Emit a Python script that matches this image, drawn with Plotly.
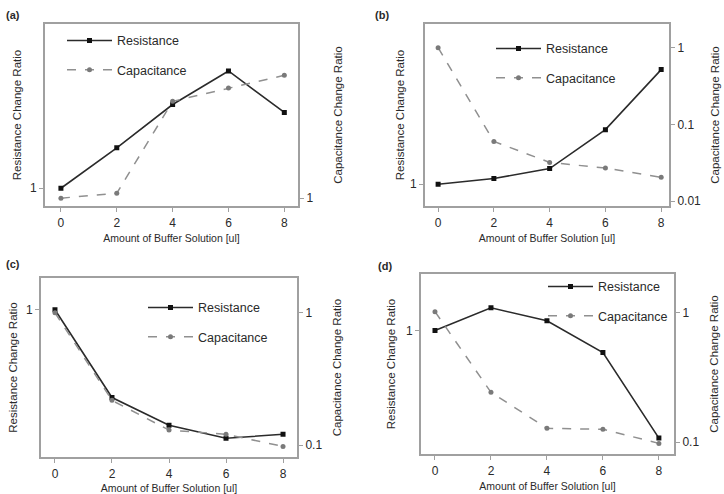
import plotly.graph_objects as go

x_vals = [0, 2, 4, 6, 8]
x_ticks = [0, 2, 4, 6, 8]

res_a = [1.0, 1.31, 1.75, 2.19, 1.66]
cap_a = [1.0, 1.02, 1.47, 1.55, 1.63]
res_b = [1.0, 1.06, 1.17, 1.73, 3.16]
cap_b = [1.0, 0.060, 0.032, 0.027, 0.0205]
res_c = [1.0, 0.324, 0.227, 0.192, 0.202]
cap_c = [1.0, 0.218, 0.13, 0.121, 0.098]
res_d = [1.0, 1.50, 1.19, 0.677, 0.148]
cap_d = [1.02, 0.243, 0.128, 0.126, 0.098]

panel_labels = ["(a)", "(b)", "(c)", "(d)"]
x_title = "Amount of Buffer Solution [ul]"
left_title = "Resistance Change Ratio"
right_title = "Capacitance Change Ratio"
res_name = "Resistance"
cap_name = "Capacitance"

W, H = 724, 494
def dx(a, b):
    return [a / W, b / W]
def dy(top, bot):
    return [1 - bot / H, 1 - top / H]

panels = [
    dict(res=res_a, cap=cap_a, xd=dx(45, 298), yd=dy(24, 207), xr=[-0.57, 8.49],
         lr=[-0.052, 0.477], rr=[-0.0138, 0.301],
         ltv=[1], ltt=["1"], rtv=[1], rtt=["1"], ls=6, rs=22,
         leg=dict(x=62 / W, y=1 - 26 / H), lab=(4, 15)),
    dict(res=res_b, cap=cap_b, xd=dx(425, 669), yd=dy(24, 207), xr=[-0.47, 8.28],
         lr=[-0.0956, 0.699], rr=[-2.065, 0.31],
         ltv=[1], ltt=["1"], rtv=[1, 0.1, 0.01], rtt=["1", "0.1", "0.01"], ls=3, rs=11,
         leg=dict(x=491 / W, y=1 - 34 / H), lab=(373, 15)),
    dict(res=res_c, cap=cap_c, xd=dx(41, 297), yd=dy(279, 459), xr=[-0.49, 8.49],
         lr=[-0.822, 0.178], rr=[-1.09, 0.263],
         ltv=[1], ltt=["1"], rtv=[1, 0.1], rtt=["1", "0.1"], ls=6, rs=12,
         leg=dict(x=143 / W, y=1 - 294 / H), lab=(4, 265)),
    dict(res=res_d, cap=cap_d, xd=dx(421, 674), yd=dy(275, 456), xr=[-0.5, 8.54],
         lr=[-0.954, 0.438], rr=[-1.092, 0.3],
         ltv=[1], ltt=["1"], rtv=[1, 0.1], rtt=["1", "0.1"], ls=8, rs=12,
         leg=dict(x=543 / W, y=1 - 273 / H), lab=(376, 267)),
]

fig = go.Figure()
FONT = "Liberation Sans, Arial, sans-serif"
frame_col = "#a0a0a0"
text_col = "#2a2a2a"

layout = dict(
    width=W, height=H, margin=dict(l=0, r=0, t=0, b=0),
    paper_bgcolor="white", plot_bgcolor="white",
    font=dict(family=FONT, color=text_col, size=12),
    annotations=[],
)

for i, p in enumerate(panels):
    n = i + 1
    xa = "x" if n == 1 else f"x{n}"
    yl = 2 * n - 1
    yr = 2 * n
    ya_l = "y" if yl == 1 else f"y{yl}"
    ya_r = f"y{yr}"
    leg = "legend" if n == 1 else f"legend{n}"

    fig.add_trace(go.Scatter(
        x=x_vals, y=p["res"], name=res_name, mode="lines+markers",
        line=dict(color="#2b2b2b", width=1.6),
        marker=dict(symbol="square", size=5, color="#111"),
        xaxis=xa, yaxis=ya_l, legend=leg, legendgroup=f"r{n}"))
    fig.add_trace(go.Scatter(
        x=x_vals, y=p["cap"], name=cap_name, mode="lines+markers",
        line=dict(color="#909090", width=1.5, dash="dash"),
        marker=dict(symbol="circle", size=5, color="#7a7a7a"),
        xaxis=xa, yaxis=ya_r, legend=leg, legendgroup=f"c{n}"))

    xkey = "xaxis" if n == 1 else f"xaxis{n}"
    ylkey = "yaxis" if yl == 1 else f"yaxis{yl}"
    yrkey = f"yaxis{yr}"
    layout[xkey] = dict(
        domain=p["xd"], anchor=ya_l, range=p["xr"],
        tickvals=x_ticks, ticks="outside", ticklen=4, tickcolor=frame_col,
        showline=True, linecolor=frame_col, linewidth=2, mirror=True,
        showgrid=False, zeroline=False,
        tickfont=dict(size=12, color=text_col),
        title=dict(text=x_title, font=dict(size=10.5, color=text_col), standoff=6),
    )
    layout[ylkey] = dict(
        domain=p["yd"], anchor=xa, type="log", range=p["lr"],
        tickvals=p["ltv"], ticktext=p["ltt"], ticks="outside", ticklen=4,
        tickcolor=frame_col, showline=True, linecolor=frame_col, linewidth=2,
        showgrid=False, zeroline=False,
        tickfont=dict(size=12, color=text_col),
        title=dict(text=left_title, font=dict(size=11.5, color=text_col), standoff=p["ls"]),
    )
    layout[yrkey] = dict(
        domain=p["yd"], anchor=xa, overlaying=ya_l,
        side="right", type="log", range=p["rr"],
        tickvals=p["rtv"], ticktext=p["rtt"], ticks="outside", ticklen=4,
        tickcolor=frame_col, showline=True, linecolor=frame_col, linewidth=2,
        showgrid=False, zeroline=False,
        tickfont=dict(size=12, color=text_col),
        title=dict(text=right_title, font=dict(size=11.5, color=text_col), standoff=p["rs"]),
    )
    layout[leg] = dict(
        x=p["leg"]["x"], y=p["leg"]["y"], xanchor="left", yanchor="top",
        bgcolor="rgba(0,0,0,0)", borderwidth=0, itemwidth=45,
        tracegroupgap=10, traceorder="grouped",
        font=dict(size=12.5, color=text_col, family=FONT),
    )
    layout["annotations"].append(dict(
        text=f"<b>{panel_labels[i]}</b>", x=p["lab"][0] / W, y=1 - p["lab"][1] / H,
        xref="paper", yref="paper", xanchor="left", yanchor="middle",
        showarrow=False, font=dict(size=11, color=text_col)))

fig.update_layout(**layout)
fig.write_html("out.html")
